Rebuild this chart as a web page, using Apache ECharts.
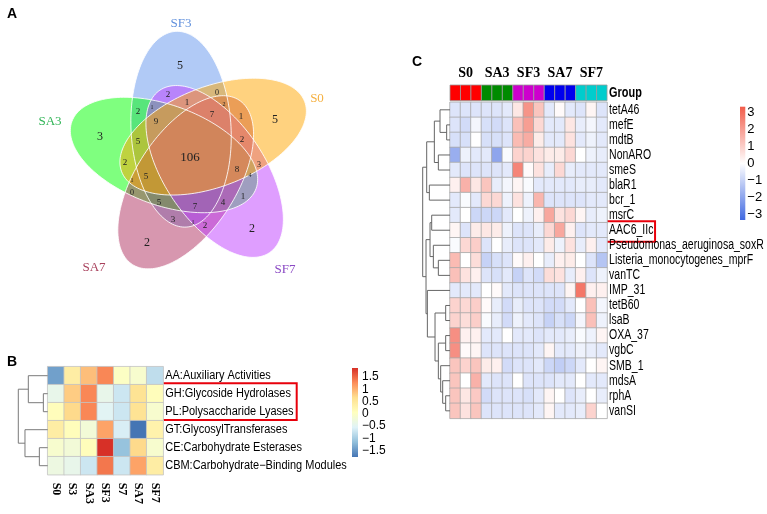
<!DOCTYPE html>
<html>
<head>
<meta charset="utf-8">
<script src="https://cdn.jsdelivr.net/npm/echarts@6/dist/echarts.min.js"></script>
<style>
  html, body { margin: 0; background: #fff; }
  #chart { width: 767px; height: 514px; }
</style>
</head>
<body>
<div id="chart"></div>
<script>
// ---------------- data ----------------
// A: five-set Venn (sets listed in drawing order)
const vennSets = ['SF3', 'SA3', 'SA7', 'SF7', 'S0'];
const vennCounts = [5, 3, 2, 2, 5, 106,
  2, 1, 0, 2, 1, 7, 2, 3, 8, 4, 1, 4, 7, 5, 0, 3, 1, 2, 5, 1, 2, 5, 9, 2, 1];

// B: CAZy family heatmap (z-scores)
const cazySamples = ['S0', 'S3', 'SA3', 'SF3', 'S7', 'SA7', 'SF7'];
const cazyFamilies = ['AA:Auxiliary Activities', 'GH:Glycoside Hydrolases', 'PL:Polysaccharide Lyases',
  'GT:GlycosylTransferases', 'CE:Carbohydrate Esterases', 'CBM:Carbohydrate\u2212Binding Modules'];
const cazyValues = [
  [-1.4, 0.4, 0.9, 1.3, 0.0, -0.1, -0.8],
  [-0.4, 0.8, 1.3, -0.4, -0.7, 0.6, 0.1],
  [0.1, 0.7, 1.3, -0.5, -0.7, 0.6, -0.1],
  [0.4, 0.1, -0.2, 1.1, -0.6, -1.75, 0.3],
  [-0.1, -0.2, 0.1, 1.86, -1.1, 0.7, -0.1],
  [-0.3, -0.4, -0.7, 1.4, -0.7, 1.1, 0.4]
];
// merges: [childA, childB, height]; leaves 0..n-1, merge k gets id n+k
const cazyTree = [[1, 2, 13], [4, 5, 25], [0, 6, 58], [3, 7, 68], [8, 9, 88]];
const cazyTicks = [-1.5, -1, -0.5, 0, 0.5, 1, 1.5];

// C: ARG heatmap (z-scores)
const argGroups = ['S0', 'SA3', 'SF3', 'SA7', 'SF7'];
const argSamples = ['S0_1', 'S0_2', 'S0_3', 'SA3_1', 'SA3_2', 'SA3_3', 'SF3_1', 'SF3_2', 'SF3_3',
  'SA7_1', 'SA7_2', 'SA7_3', 'SF7_1', 'SF7_2', 'SF7_3'];
const argSampleGroup = [0, 0, 0, 1, 1, 1, 2, 2, 2, 3, 3, 3, 4, 4, 4];
const argNames = ['tetA46', 'mefE', 'mdtB', 'NonARO', 'smeS', 'blaR1', 'bcr_1', 'msrC', 'AAC6_IIc',
  'Pseudomonas_aeruginosa_soxR', 'Listeria_monocytogenes_mprF', 'vanTC', 'IMP_31', 'tetB60', 'lsaB',
  'OXA_37', 'vgbC', 'SMB_1', 'mdsA', 'rphA', 'vanSI'];
const argValues = [
  [-0.6, -0.6, -0.6, -0.6, -0.6, -0.5, 0.5, 2.2, 1.2, -0.5, 0.1, -0.5, -0.6, 0.2, -0.6],
  [-0.6, -0.8, -0.2, -0.7, -0.8, -0.6, 1.3, 2.0, 0.8, -0.5, -0.5, 0.5, -0.4, -0.2, -0.5],
  [-0.7, -0.7, 0.0, -0.7, -0.7, -0.6, 1.4, 1.7, 0.4, -0.5, -0.5, 0.6, -0.5, -0.3, -0.5],
  [-1.8, -0.3, -0.5, -0.5, -2.0, -0.1, 0.9, 0.9, 0.6, 0.4, 0.4, 0.8, 0.0, -0.3, -0.4],
  [-0.5, -0.6, -0.6, -0.6, -0.6, -0.5, 2.5, 0.1, 0.6, -0.4, 0.8, -0.4, -0.5, -0.5, -0.5],
  [0.3, 1.6, 0.5, 1.2, -0.4, -0.2, 0.2, -0.1, -0.5, -0.5, -0.5, -0.5, -0.4, -0.4, -0.5],
  [-0.5, -0.1, -0.5, 0.8, 0.8, -0.3, 0.6, -0.3, 1.5, -0.6, -0.6, -0.6, -0.6, -0.5, -0.5],
  [-0.5, 0.0, -0.9, -0.9, -0.9, -0.5, 0.0, -0.3, 0.3, 1.8, 0.6, 0.8, 0.2, -0.4, -0.3],
  [0.2, -0.6, 0.4, 0.5, 0.4, -0.3, -0.6, -0.6, -0.4, 0.8, 1.8, 0.3, -0.6, -0.5, -0.5],
  [-0.1, 0.8, 1.0, -0.6, 0.0, -0.4, -0.6, -0.6, -0.5, 0.4, -0.3, 0.6, -0.4, 0.3, -0.5],
  [1.4, 0.0, 0.7, -1.0, -0.7, -0.6, 0.1, 0.3, 0.0, -0.4, 0.3, 0.4, 0.0, -0.6, -1.3],
  [1.3, 0.6, 0.3, -0.6, -0.7, -0.5, -1.0, -0.6, -0.8, 0.7, 0.6, -0.4, 0.3, -0.6, -0.3],
  [-0.5, -0.5, -0.5, 0.0, 0.1, -0.5, -0.6, -0.6, -0.6, -0.6, -0.6, 0.2, 2.8, 0.3, 0.3],
  [0.9, 0.8, 1.0, 0.1, -0.4, -0.8, -0.4, -0.6, -0.6, -0.8, -0.8, -0.5, 0.0, 1.3, -0.2],
  [0.9, 0.7, 1.0, -0.1, -0.4, -0.8, -0.3, -0.5, -0.6, -1.0, -0.7, -0.9, -0.2, 1.3, -0.3],
  [2.3, 0.3, 0.3, -0.5, -0.5, 0.0, -0.5, -0.5, -0.6, -0.5, -0.5, -0.4, -0.1, -0.3, 0.2],
  [2.3, 0.1, 0.2, -0.6, -0.6, -0.6, -0.6, -0.6, -0.5, 0.2, -0.5, -0.5, -0.3, -0.4, -0.5],
  [1.2, 0.9, 1.2, 0.4, 0.3, -0.8, -0.6, -0.6, -0.5, -0.9, -1.1, -0.9, -0.5, 0.0, 0.2],
  [1.2, 0.0, 1.6, -0.5, -0.6, -0.6, 0.0, -0.6, -0.6, -0.6, -0.5, -0.5, 0.0, -0.5, -0.5],
  [1.2, 0.5, 1.1, -0.8, -0.6, -0.6, -0.6, -0.7, -0.5, 0.2, 0.0, -0.6, -0.4, 0.0, -0.4],
  [1.2, 0.6, 1.2, -0.6, -0.6, -0.6, -0.6, -0.6, -0.5, 0.2, -0.5, -0.5, -0.4, 0.9, 0.0]
];
const argTree = [[1, 2, 10], [0, 21, 30], [3, 4, 35], [22, 23, 47], [5, 6, 62], [24, 25, 70],
  [7, 8, 55], [10, 11, 35], [9, 28, 50], [27, 29, 60],
  [13, 14, 13], [15, 16, 13], [19, 20, 13], [18, 33, 22], [17, 34, 28], [32, 35, 35], [31, 36, 45],
  [12, 37, 68], [30, 38, 72], [26, 39, 82]];
const argTicks = [-3, -2, -1, 0, 1, 2, 3];

// ---------------- layout / style ----------------
const SERIF = '"Liberation Serif", "Times New Roman", serif';
const SANS = '"Liberation Sans", Arial, sans-serif';

const vennFill = { SF3: '#6495ED', SA3: '#00FF00', SA7: '#B03060', SF7: '#BF3EFF', S0: '#FFA500' };
const vennTextColor = { SF3: '#5f8fdc', SA3: '#2fb455', SA7: '#a8405c', SF7: '#8a48c4', S0: '#f5b040' };
const vennAxisAngle = { SF3: -93, SA3: -160, SA7: 123, SF7: 56, S0: -21 };
const vennCenter = [192, 155], vennDist = 28, vennA = 98, vennB = 50, vennTilt = -20;
const vennNamePos = { SF3: [181, 24], SA3: [50, 122], SA7: [94, 268], SF7: [285, 270], S0: [317, 99] };
const vennCountPos = [[180, 66], [100, 137], [147, 243], [252, 229], [275, 120], [190, 158],
  [168, 95], [187, 103], [217, 93], [224, 104], [241, 117], [212, 115], [242, 140], [259, 165],
  [237, 170], [250, 175], [243, 197], [223, 203], [195, 207], [159, 203], [132, 193], [173, 220],
  [193, 222], [205, 226], [146, 177], [132, 180], [125, 163], [138, 142], [156, 122], [138, 112], [152, 107]];
const vennCountSize = [12, 12, 12, 12, 12, 13, 9, 9, 8, 6, 9, 9, 9, 8, 9, 6, 9, 9, 9, 9, 8, 9, 6, 9, 9, 6, 9, 9, 9, 9, 6];

const cazyPalette = ['#4575B4', '#91BFDB', '#E0F3F8', '#FFFFBF', '#FEE090', '#FC8D59', '#D73027'];
const argPalette = ['#4169E1', '#FFFFFF', '#F25C4A'];
const groupColors = ['#FF0000', '#008B00', '#CD00CD', '#0000EE', '#00CDCD'];

const B = { left: 47.7, top: 366.7, cw: 16.5, rh: 18 };
const C = { left: 450, top: 102.3, cw: 10.47, rh: 15.05, barTop: 85, barH: 15.7 };

const cazyMin = -1.75, cazyMax = 1.86, argMin = -3.35, argMax = 3.35;

// ---------------- helpers ----------------
function heatData(rows) {
  const out = [];
  rows.forEach((r, i) => r.forEach((v, j) => out.push([j, i, v])));
  return out;
}

function treeSegments(tree, n) {
  const pos = [], hgt = [], segs = [];
  for (let i = 0; i < n; i++) { pos.push(i); hgt.push(0); }
  tree.forEach(([a, b, h]) => {
    segs.push({ coords: [[hgt[a], pos[a]], [h, pos[a]], [h, pos[b]], [hgt[b], pos[b]]] });
    pos.push((pos[a] + pos[b]) / 2);
    hgt.push(h);
  });
  return segs;
}

function hexA(hex, a) {
  const n = parseInt(hex.slice(1), 16);
  return `rgba(${n >> 16},${(n >> 8) & 255},${n & 255},${a})`;
}

function ellipsePoints(name, api) {
  const ax = vennAxisAngle[name] * Math.PI / 180;
  const off = (vennAxisAngle[name] + vennTilt) * Math.PI / 180;
  const cx = vennCenter[0] + vennDist * Math.cos(off);
  const cy = vennCenter[1] + vennDist * Math.sin(off);
  const pts = [];
  for (let k = 0; k < 160; k++) {
    const t = k / 160 * Math.PI * 2;
    const ex = vennA * Math.cos(t), ey = vennB * Math.sin(t);
    pts.push(api.coord([cx + ex * Math.cos(ax) - ey * Math.sin(ax), cy + ex * Math.sin(ax) + ey * Math.cos(ax)]));
  }
  return pts;
}

function colorbarItem(palette, lo, hi) {
  return function (params, api) {
    const p0 = api.coord([0, hi]);
    const p1 = api.coord([1, lo]);
    const stops = palette.map((c, i) => ({ offset: 1 - i / (palette.length - 1), color: c })).reverse();
    return {
      type: 'rect',
      shape: { x: p0[0], y: p0[1], width: p1[0] - p0[0], height: p1[1] - p0[1] },
      style: { fill: new echarts.graphic.LinearGradient(0, 0, 0, 1, stops) }
    };
  };
}

// row labels drawn right of the last column, horizontally condensed like the original
function rowLabelItem(names, lastCol, size, squeeze, bold) {
  return function (params, api) {
    const p = api.coord([lastCol, api.value(0)]);
    const w = api.size([1, 1])[0];
    return {
      type: 'text', x: p[0] + w / 2 + 2, y: p[1], scaleX: squeeze,
      style: { text: names[params.dataIndex], fontFamily: SANS, fontSize: size, fontWeight: bold ? 'bold' : 'normal',
        fill: '#000', align: 'left', verticalAlign: 'middle' }
    };
  };
}

const minusFmt = v => (v < 0 ? '\u2212' + (-v) : String(v));

// ---------------- chart ----------------
const chart = echarts.init(document.getElementById('chart'));

const hidden = { show: false };
const g = (left, top, width, height) => ({ left, top, width, height, outerBoundsMode: 'none', containLabel: false });

const option = {
  animation: false,
  backgroundColor: '#fff',
  grid: [
    g(0, 0, 390, 320),                                  // 0 venn
    g(B.left, B.top, B.cw * 7, B.rh * 6),               // 1 B heat
    g(18.3, B.top, B.left - 18.3, B.rh * 6),            // 2 B tree
    g(352, 368, 6, 89),                                 // 3 B bar
    g(C.left, C.barTop, C.cw * 15, C.barH),             // 4 group bar
    g(C.left, C.top, C.cw * 15, C.rh * 21),             // 5 C heat
    g(422.7, C.top, C.left - 422.7, C.rh * 21),         // 6 C tree
    g(740, 106.7, 5.3, 113.3)                           // 7 C bar
  ],
  xAxis: [
    { gridIndex: 0, type: 'value', min: 0, max: 390, ...hidden },
    {
      gridIndex: 1, type: 'category', data: cazySamples, position: 'bottom',
      axisLine: { show: false }, axisTick: { show: false },
      axisLabel: { rotate: -90, margin: 8, interval: 0, fontFamily: SERIF, fontWeight: 'bold', fontSize: 12, color: '#000' }
    },
    { gridIndex: 2, type: 'value', min: 0, max: 88, inverse: true, ...hidden },
    { gridIndex: 3, type: 'value', min: 0, max: 1, ...hidden },
    { gridIndex: 4, type: 'category', data: argSamples, ...hidden },
    {
      gridIndex: 4, type: 'category', data: argGroups, position: 'top',
      axisLine: { show: false }, axisTick: { show: false },
      axisLabel: { margin: 5, interval: 0, fontFamily: SERIF, fontWeight: 'bold', fontSize: 14, color: '#000' }
    },
    { gridIndex: 5, type: 'category', data: argSamples, ...hidden },
    { gridIndex: 6, type: 'value', min: 0, max: 82, inverse: true, ...hidden },
    { gridIndex: 7, type: 'value', min: 0, max: 1, ...hidden }
  ],
  yAxis: [
    { gridIndex: 0, type: 'value', min: 0, max: 320, inverse: true, ...hidden },
    { gridIndex: 1, type: 'category', data: cazyFamilies, inverse: true, ...hidden },
    { gridIndex: 2, type: 'value', min: -0.5, max: 5.5, inverse: true, ...hidden },
    {
      gridIndex: 3, type: 'value', min: cazyMin, max: cazyMax, position: 'right',
      splitLine: { show: false }, axisLine: { show: false }, axisTick: { show: false },
      axisLabel: { margin: 4, customValues: cazyTicks, formatter: minusFmt, fontFamily: SANS, fontSize: 12, color: '#000' }
    },
    { gridIndex: 4, type: 'category', data: ['Group'], ...hidden },
    { gridIndex: 5, type: 'category', data: argNames, inverse: true, ...hidden },
    { gridIndex: 6, type: 'value', min: -0.5, max: 20.5, inverse: true, ...hidden },
    {
      gridIndex: 7, type: 'value', min: argMin, max: argMax, position: 'right',
      splitLine: { show: false }, axisLine: { show: false }, axisTick: { show: false },
      axisLabel: { margin: 2, customValues: argTicks, formatter: minusFmt, fontFamily: SANS, fontSize: 13, color: '#000' }
    }
  ],
  visualMap: [
    { show: false, type: 'continuous', seriesIndex: 4, dimension: 2, min: cazyMin, max: cazyMax, inRange: { color: cazyPalette } },
    { show: false, type: 'continuous', seriesIndex: 8, dimension: 2, min: argMin, max: argMax, inRange: { color: argPalette } }
  ],
  series: [
    // 0 venn fills
    {
      type: 'custom', xAxisIndex: 0, yAxisIndex: 0, data: vennSets.map((s, i) => [i]), silent: true,
      renderItem: (params, api) => {
        const name = vennSets[params.dataIndex];
        return { type: 'polygon', shape: { points: ellipsePoints(name, api) }, style: { fill: hexA(vennFill[name], 0.5) } };
      }
    },
    // 1 venn outlines
    {
      type: 'custom', xAxisIndex: 0, yAxisIndex: 0, data: vennSets.map((s, i) => [i]), silent: true,
      renderItem: (params, api) => {
        const name = vennSets[params.dataIndex];
        return { type: 'polygon', shape: { points: ellipsePoints(name, api) }, style: { fill: null, stroke: 'rgba(255,255,255,0.85)', lineWidth: 1 } };
      }
    },
    // 2 venn counts
    {
      type: 'custom', xAxisIndex: 0, yAxisIndex: 0, data: vennCounts.map((c, i) => [vennCountPos[i][0], vennCountPos[i][1], c]), silent: true,
      renderItem: (params, api) => {
        const p = api.coord([api.value(0), api.value(1)]);
        return {
          type: 'text', x: p[0], y: p[1],
          style: { text: String(api.value(2)), fontFamily: SERIF, fontSize: vennCountSize[params.dataIndex], fill: '#222', align: 'center', verticalAlign: 'middle' }
        };
      }
    },
    // 3 venn set names
    {
      type: 'custom', xAxisIndex: 0, yAxisIndex: 0, data: vennSets.map(s => [vennNamePos[s][0], vennNamePos[s][1]]), silent: true,
      renderItem: (params, api) => {
        const name = vennSets[params.dataIndex];
        const p = api.coord([api.value(0), api.value(1)]);
        return {
          type: 'text', x: p[0], y: p[1],
          style: { text: name, fontFamily: SERIF, fontSize: 13, fill: vennTextColor[name], align: 'center', verticalAlign: 'middle' }
        };
      }
    },
    // 4 B heatmap
    {
      type: 'heatmap', xAxisIndex: 1, yAxisIndex: 1, data: heatData(cazyValues),
      itemStyle: { borderColor: '#c4c4c4', borderWidth: 0.8 }
    },
    // 5 B dendrogram
    {
      type: 'lines', coordinateSystem: 'cartesian2d', xAxisIndex: 2, yAxisIndex: 2, polyline: true,
      data: treeSegments(cazyTree, cazyFamilies.length), lineStyle: { color: '#7a7a7a', width: 1, opacity: 1 }, silent: true
    },
    // 6 B colorbar
    {
      type: 'custom', xAxisIndex: 3, yAxisIndex: 3, data: [[0]], silent: true,
      renderItem: colorbarItem(cazyPalette, cazyMin, cazyMax)
    },
    // 7 C group bar
    {
      type: 'custom', xAxisIndex: 4, yAxisIndex: 4, data: argSamples.map((s, i) => [i, 0]), silent: true,
      renderItem: (params, api) => {
        const p = api.coord([api.value(0), 0]);
        const sz = api.size([1, 1]);
        return {
          type: 'rect', shape: { x: p[0] - sz[0] / 2, y: p[1] - sz[1] / 2, width: sz[0], height: sz[1] },
          style: { fill: groupColors[argSampleGroup[params.dataIndex]], stroke: '#9a9a9a', lineWidth: 0.8 }
        };
      }
    },
    // 8 C heatmap
    {
      type: 'heatmap', xAxisIndex: 6, yAxisIndex: 5, data: heatData(argValues),
      itemStyle: { borderColor: '#a8a8a8', borderWidth: 0.8 }
    },
    // 9 C dendrogram
    {
      type: 'lines', coordinateSystem: 'cartesian2d', xAxisIndex: 7, yAxisIndex: 6, polyline: true,
      data: treeSegments(argTree, argNames.length), lineStyle: { color: '#666', width: 1, opacity: 1 }, silent: true
    },
    // 10 C colorbar
    {
      type: 'custom', xAxisIndex: 8, yAxisIndex: 7, data: [[0]], silent: true,
      renderItem: colorbarItem(argPalette, argMin, argMax)
    },
    // 11 B row labels
    {
      type: 'custom', xAxisIndex: 1, yAxisIndex: 1, data: cazyFamilies.map((n, i) => [i]), silent: true,
      renderItem: rowLabelItem(cazyFamilies, cazySamples.length - 1, 12, 0.915, false)
    },
    // 12 C row labels
    {
      type: 'custom', xAxisIndex: 6, yAxisIndex: 5, data: argNames.map((n, i) => [i]), silent: true,
      renderItem: rowLabelItem(argNames, argSamples.length - 1, 14, 0.75, false)
    },
    // 13 "Group" label of the annotation bar
    {
      type: 'custom', xAxisIndex: 4, yAxisIndex: 4, data: [[0]], silent: true,
      renderItem: rowLabelItem(['Group'], argSamples.length - 1, 14, 0.78, true)
    }
  ],
  graphic: [
    { type: 'text', left: 7, top: 7, style: { text: 'A', fontFamily: SANS, fontWeight: 'bold', fontSize: 14, fill: '#000' } },
    { type: 'text', left: 7, top: 355, style: { text: 'B', fontFamily: SANS, fontWeight: 'bold', fontSize: 14, fill: '#000' } },
    { type: 'text', left: 412, top: 55, style: { text: 'C', fontFamily: SANS, fontWeight: 'bold', fontSize: 14, fill: '#000' } },
    {
      type: 'rect', shape: { x: B.left + B.cw * 7 - 1.5, y: B.top + B.rh - 1.4, width: 135, height: B.rh * 2 + 0.7 },
      style: { fill: null, stroke: '#E8000B', lineWidth: 2 }
    },
    {
      type: 'rect', shape: { x: C.left + C.cw * 15 - 2, y: C.top + C.rh * 8 - 1.4, width: 50, height: C.rh + 5.5 },
      style: { fill: null, stroke: '#E8000B', lineWidth: 2 }
    }
  ]
};

chart.setOption(option);
window.addEventListener('resize', () => chart.resize());
</script>
</body>
</html>
